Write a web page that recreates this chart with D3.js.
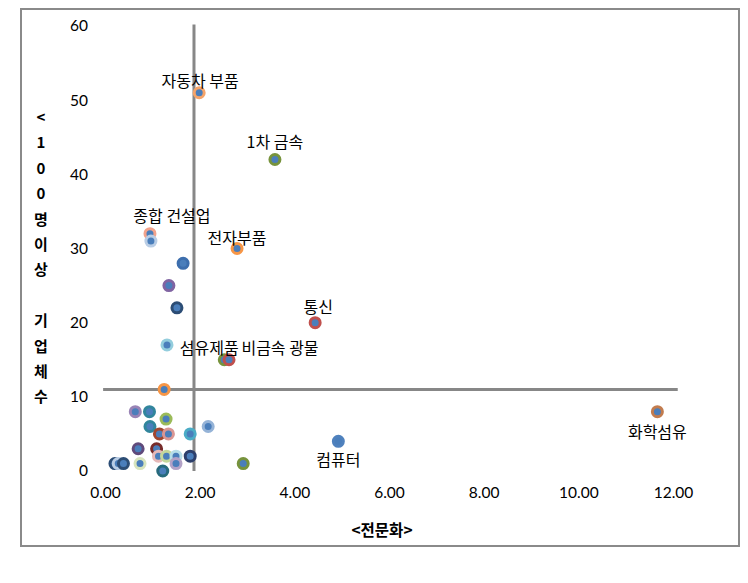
<!DOCTYPE html>
<html><head><meta charset="utf-8">
<script src="https://cdn.jsdelivr.net/npm/d3@7"></script>
<style>body{margin:0;background:#fff}svg{display:block}</style>
</head><body>
<script>
// ---- data ----
const xValues = [1.99,3.59,0.95,0.97,2.79,1.65,1.35,1.52,4.44,1.31,2.52,2.62,1.25,
  0.64,0.94,1.29,0.95,1.15,1.34,1.80,2.18,0.70,1.09,1.13,1.30,1.50,1.80,1.50,0.21,0.28,0.39,0.74,1.22,2.92,4.93,11.67];
const yValues = [51,42,32,31,30,28,25,22,20,17,15,15,11,
  8,8,7,6,5,5,5,6,3,3,2,2,2,2,1,1,1,1,1,0,1,4,8];
const pointLabels = ["자동차 부품","1차 금속","종합 건설업","","전자부품","","","","통신","","섬유제품","비금속 광물","",
  "","","","","","","","","","","","","","","","","","","","","","컴퓨터","화학섬유"];
const outlineColors = ["#F5A46A","#77933C","#F2A38C","#B9CDE5","#F79646","#3D6EAD","#8064A2","#2C4D75","#C0504D","#93CDDD","#77933C","#C0504D","#F79646",
  "#9983B5","#31859C","#9BBB59","#31859C","#A0472F","#D99694","#4BACC6","#95B3D7","#604A7B","#772C2A","#E6B9B8","#C3D69B","#B7DEE8","#2C3F6B","#B3A2C7","#2C4D75","#B9CDE5","#2C4D75","#D7E4BD","#276A7C","#77933C","#4F81BD","#C27C4E"];
const xTicks = [0,2,4,6,8,10,12];
const yTicks = [0,10,20,30,40,50,60];
const meanX = 1.88, meanY = 11;
const hLineExtent = [-0.04, 12.1];
const vLineExtent = [0, 60.2];
const yTitleChars = ["<","1","0","0","명","이","상","","기","업","체","수"];
const xTitle = "<전문화>";

// ---- layout ----
const W = 748, H = 583;
const svg = d3.select("body").append("svg").attr("width", W).attr("height", H);
svg.append("rect").attr("x",21).attr("y",9).attr("width",718).attr("height",537)
  .attr("fill","#fff").attr("stroke","#8a8a8a").attr("stroke-width",2);

const x = d3.scaleLinear().domain([0,12]).range([105,673]);
const y = d3.scaleLinear().domain([0,60]).range([471,26]);

const tickFont = "Lato, 'Open Sans', sans-serif";
const krFont = "'Noto Sans CJK KR', 'Noto Sans', sans-serif";

// axes (labels only)
const xAxis = svg.append("g").attr("transform","translate(0,484)")
  .call(d3.axisBottom(x).tickValues(xTicks).tickFormat(d3.format(".2f")).tickSize(0));
xAxis.select(".domain").remove();
xAxis.selectAll("text").attr("font-family",tickFont).attr("font-size",15.5).attr("fill","#000");

const yAxis = svg.append("g").attr("transform","translate(91,0)")
  .call(d3.axisLeft(y).tickValues(yTicks).tickFormat(d3.format("d")).tickSize(0));
yAxis.select(".domain").remove();
yAxis.selectAll("text").attr("font-family",tickFont).attr("font-size",15.5).attr("fill","#000");

// reference lines
svg.append("line").attr("x1",x(hLineExtent[0])).attr("x2",x(hLineExtent[1]))
  .attr("y1",y(meanY)).attr("y2",y(meanY)).attr("stroke","#878787").attr("stroke-width",3);
svg.append("line").attr("x1",x(meanX)).attr("x2",x(meanX))
  .attr("y1",y(vLineExtent[0])).attr("y2",y(vLineExtent[1])).attr("stroke","#878787").attr("stroke-width",3);

// points
const pts = xValues.map((v,i)=>({x:v,y:yValues[i],c:outlineColors[i],label:pointLabels[i]}));
svg.append("g").selectAll("circle").data(pts).join("circle")
  .attr("cx",d=>x(d.x)).attr("cy",d=>y(d.y)).attr("r",5)
  .attr("fill","#4A7EBB").attr("stroke",d=>d.c).attr("stroke-width",3);

// labels
const labelOffset = {
  "자동차 부품":[1,-6], "1차 금속":[0,-12], "종합 건설업":[22,-12], "전자부품":[0,-5],
  "통신":[3,-10], "섬유제품":[-15,-6], "비금속 광물":[51,-6], "컴퓨터":[0,25], "화학섬유":[0,26]
};
svg.append("g").selectAll("text").data(pts.filter(d=>d.label)).join("text")
  .attr("x",d=>x(d.x)+labelOffset[d.label][0]).attr("y",d=>y(d.y)+labelOffset[d.label][1])
  .attr("text-anchor","middle").attr("font-family",krFont).attr("font-size",16).attr("fill","#000")
  .text(d=>d.label);

// y title stacked
svg.append("g").selectAll("text").data(yTitleChars).join("text")
  .attr("x",41).attr("y",(d,i)=>123+i*25.4).attr("text-anchor","middle")
  .attr("font-family",krFont).attr("font-weight","bold").attr("font-size",15).attr("fill","#000")
  .text(d=>d);

// x title
svg.append("text").attr("x",382).attr("y",536).attr("text-anchor","middle")
  .attr("font-family",krFont).attr("font-weight","bold").attr("font-size",15.5).attr("fill","#000")
  .text(xTitle);
</script>
</body></html>
